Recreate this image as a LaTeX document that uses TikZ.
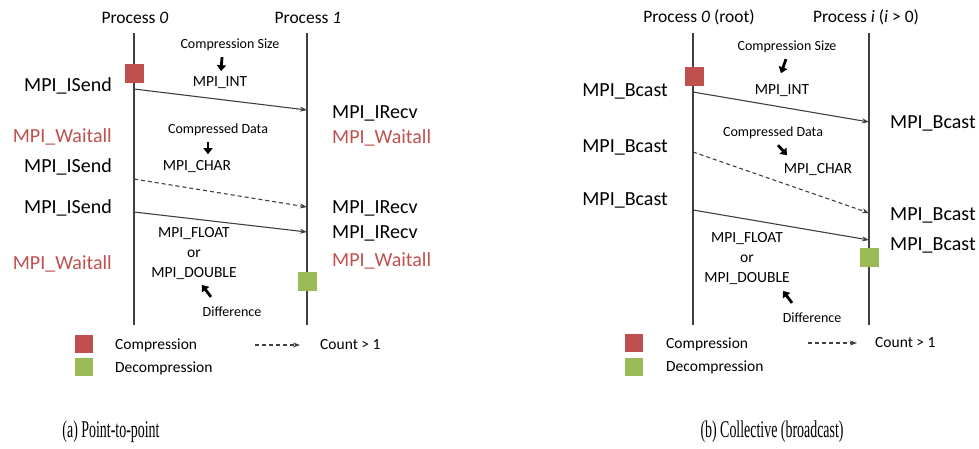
\documentclass[tikz,border=0pt]{standalone}
\usepackage{fontspec}
\setmainfont{Carlito}
\newfontfamily\capfont{Liberation Serif}
\usepackage{graphicx}
\definecolor{mpired}{HTML}{C0504D}
\definecolor{mpigreen}{HTML}{9BBB59}
\definecolor{mpiwait}{HTML}{C0504D}
\definecolor{mpiline}{HTML}{404040}
\usepackage{tikz}
\usetikzlibrary{arrows.meta, positioning}

\begin{document}
\begin{tikzpicture}[x=1pt, y=-1pt,
  proc/.style={inner sep=0pt, font=\fontsize{17.5}{20}\selectfont},
  call/.style={inner sep=0pt, font=\fontsize{20}{22}\selectfont},
  waitcall/.style={call, text=mpiwait},
  dtype/.style={inner sep=0pt, align=center, font=\fontsize{15.5}{20}\selectfont},
  note/.style={inner sep=0pt, font=\fontsize{14}{16}\selectfont},
  legtext/.style={inner sep=0pt, anchor=west, font=\fontsize{15.5}{18}\selectfont},
  life/.style={draw=mpiline, line width=1.3pt},
  msg/.style={draw=mpiline, line width=1.1pt, -{Stealth[length=7pt, width=5pt]}},
  multi/.style={msg, dash pattern=on 4pt off 3pt},
  hint/.style={draw=black, line width=2.8pt, -{Triangle[length=6pt, width=9pt]}},
  marker/.style={minimum size=19pt, inner sep=0pt},
  caption/.style={inner sep=0pt, font=\capfont\fontsize{24}{26}\selectfont},
]
  \useasboundingbox (0,0) rectangle (979,448);

  % ---------------- (a) point-to-point ----------------
  \node[proc] (pa0) at (135,18) {Process \textit{0}};
  \node[proc] (pa1) at (308,18) {Process \textit{1}};
  \coordinate (a0top) at (134,33);  \coordinate (a0bot) at (134,325);
  \coordinate (a1top) at (307,33);  \coordinate (a1bot) at (307,325);
  \draw[life] (a0top) -- (a0bot);
  \draw[life] (a1top) -- (a1bot);

  \node[marker, fill=mpired] (cmpA) at (134,73) {};
  \node[marker, fill=mpigreen] (dcmA) at (307,281) {};

  \node[call, anchor=east] (sendA1) at (112,86) {MPI\_ISend};
  \node[waitcall, anchor=east] (waitA1) at (112,137) {MPI\_Waitall};
  \node[call, anchor=east] (sendA2) at (112,167) {MPI\_ISend};
  \node[call, anchor=east] (sendA3) at (112,208) {MPI\_ISend};
  \node[waitcall, anchor=east] (waitA2) at (112,264) {MPI\_Waitall};

  \node[call, anchor=west] (recvA1) at (332,113) {MPI\_IRecv};
  \node[waitcall, anchor=west] (waitA3) at (332,138) {MPI\_Waitall};
  \node[call, anchor=west] (recvA2) at (332,208) {MPI\_IRecv};
  \node[call, anchor=west] (recvA3) at (332,233) {MPI\_IRecv};
  \node[waitcall, anchor=west] (waitA4) at (332,261) {MPI\_Waitall};

  \node[note] (szA) at (230,45) {Compression Size};
  \node[dtype] (intA) at (220,83) {MPI\_INT};
  \node[note] (cdA) at (218,130) {Compressed Data};
  \node[dtype] (charA) at (197,167) {MPI\_CHAR};
  \node[dtype] (fltA) at (194,254) {MPI\_FLOAT\\or\\MPI\_DOUBLE};
  \node[note] (difA) at (232,312) {Difference};

  \coordinate (a0s1) at (134,89);   \coordinate (a1r1) at (307,110);
  \coordinate (a0s2) at (134,179);  \coordinate (a1r2) at (307,207);
  \coordinate (a0s3) at (134,212);  \coordinate (a1r3) at (307,232);
  \draw[msg] (a0s1) -- (a1r1);
  \draw[multi] (a0s2) -- (a1r2);
  \draw[msg] (a0s3) -- (a1r3);

  \draw[hint] ([xshift=-8pt, yshift=-6pt]szA.south) -- ++(-1,14);
  \draw[hint] ([xshift=-10pt, yshift=-6pt]cdA.south) -- ++(0,12);
  \draw[hint] ([xshift=-21pt, yshift=10pt]difA.north) -- ++(-9,-12);

  % legend (a)
  \node[marker, minimum size=18pt, fill=mpired] (legcA) at (84,344) {};
  \node[marker, minimum size=18pt, fill=mpigreen] (legdA) at (84,367) {};
  \node[legtext] (legcAt) at (115,345) {Compression};
  \node[legtext] (legdAt) at (115,368) {Decompression};
  \coordinate (legmA) at (255,345);
  \node[legtext] (cntA) at (320,345) {Count > 1};
  \draw[multi] (legmA) -- ([xshift=-20pt]cntA.west);

  \node[caption] (capA) at (111,432) {\scalebox{0.58}[1]{(a) Point-to-point}};

  % ---------------- (b) collective (broadcast) ----------------
  \node[proc] (pb0) at (699,17) {Process \textit{0} (root)};
  \node[proc] (pb1) at (866,17) {Process \textit{i} (\textit{i} > 0)};
  \coordinate (b0top) at (693,33);  \coordinate (b0bot) at (693,325);
  \coordinate (b1top) at (869,33);  \coordinate (b1bot) at (869,325);
  \draw[life] (b0top) -- (b0bot);
  \draw[life] (b1top) -- (b1bot);

  \node[marker, fill=mpired] (cmpB) at (694,76) {};
  \node[marker, fill=mpigreen] (dcmB) at (869,257) {};

  \node[call, anchor=east] (bcB1) at (668,91) {MPI\_Bcast};
  \node[call, anchor=east] (bcB2) at (668,147) {MPI\_Bcast};
  \node[call, anchor=east] (bcB3) at (668,200) {MPI\_Bcast};
  \node[call, anchor=west] (bcB4) at (890,123) {MPI\_Bcast};
  \node[call, anchor=west] (bcB5) at (890,215) {MPI\_Bcast};
  \node[call, anchor=west] (bcB6) at (890,245) {MPI\_Bcast};

  \node[note] (szB) at (787,47) {Compression Size};
  \node[dtype] (intB) at (782,91) {MPI\_INT};
  \node[note] (cdB) at (773,133) {Compressed Data};
  \node[dtype] (charB) at (818,170) {MPI\_CHAR};
  \node[dtype] (fltB) at (747,259) {MPI\_FLOAT\\or\\MPI\_DOUBLE};
  \node[note] (difB) at (812,318) {Difference};

  \coordinate (b0s1) at (693,92);   \coordinate (b1r1) at (869,122);
  \coordinate (b0s2) at (693,152);  \coordinate (b1r2) at (869,213);
  \coordinate (b0s3) at (693,210);  \coordinate (b1r3) at (869,240);
  \draw[msg] (b0s1) -- (b1r1);
  \draw[multi] (b0s2) -- (b1r2);
  \draw[msg] (b0s3) -- (b1r3);

  \draw[hint] ([xshift=-1pt, yshift=-6pt]szB.south) -- ++(-5,14);
  \draw[hint] ([xshift=5pt, yshift=-6pt]cdB.south) -- ++(9,10);
  \draw[hint] ([xshift=-20pt, yshift=10pt]difB.north) -- ++(-9,-12);

  % legend (b)
  \node[marker, minimum size=18pt, fill=mpired] (legcB) at (634,343) {};
  \node[marker, minimum size=18pt, fill=mpigreen] (legdB) at (634,367) {};
  \node[legtext] (legcBt) at (666,344) {Compression};
  \node[legtext] (legdBt) at (666,367) {Decompression};
  \coordinate (legmB) at (808,343);
  \node[legtext] (cntB) at (875,343) {Count > 1};
  \draw[multi] (legmB) -- ([xshift=-18pt]cntB.west);

  \node[caption] (capB) at (772,432) {\scalebox{0.58}[1]{(b) Collective (broadcast)}};
\end{tikzpicture}
\end{document}
